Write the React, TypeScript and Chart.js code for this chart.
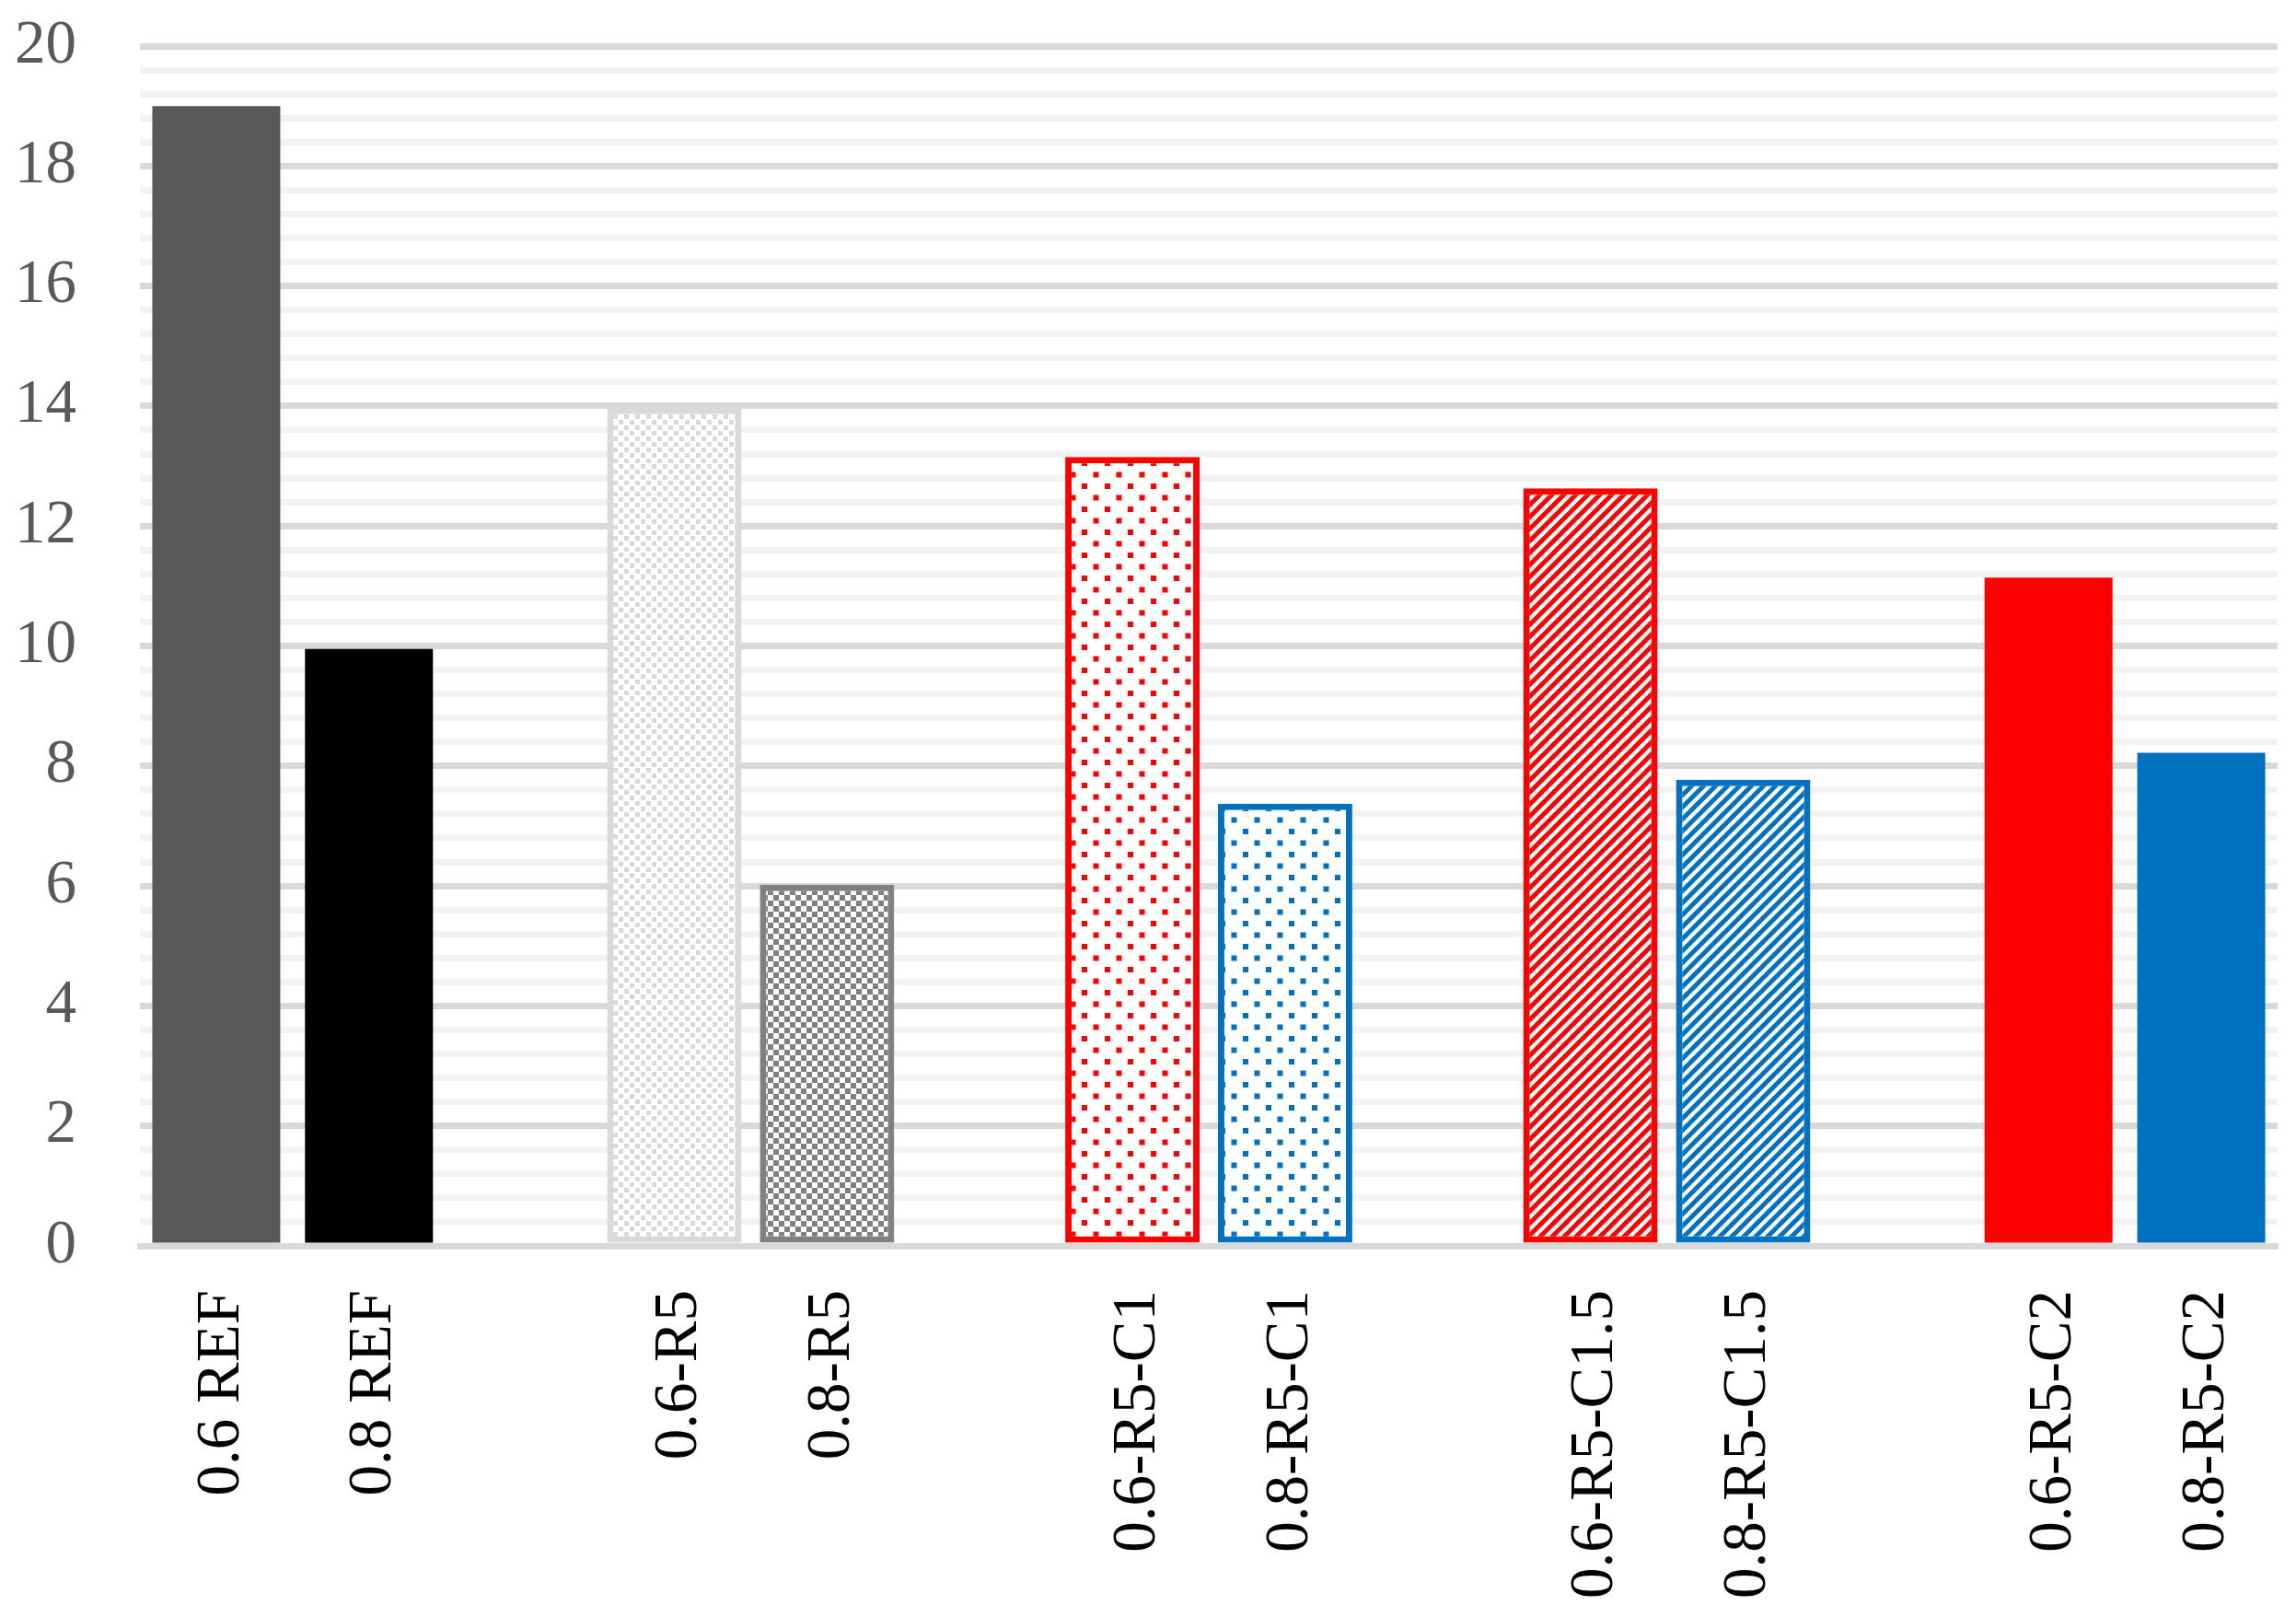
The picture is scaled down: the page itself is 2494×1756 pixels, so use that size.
import React, { useEffect, useRef } from "react";
import { Chart, registerables } from "chart.js";

Chart.register(...registerables);

// ---- data ----
const categories: string[] = [
  "0.6 REF", "0.8 REF", "",
  "0.6-R5", "0.8-R5", "",
  "0.6-R5-C1", "0.8-R5-C1", "",
  "0.6-R5-C1.5", "0.8-R5-C1.5", "",
  "0.6-R5-C2", "0.8-R5-C2",
];
const values: (number | null)[] = [
  19.0, 9.95, null,
  13.97, 6.02, null,
  13.15, 7.37, null,
  12.63, 7.77, null,
  11.14, 8.22,
];
const yMin = 0;
const yMax = 20;
const yStep = 0.4;
const yLabelEvery = 2;

// ---- styles (kept apart from the data) ----
type Kind = "solid" | "checkLight" | "checkDark" | "dots" | "stripes" | "none";
const barKinds: Kind[] = [
  "solid", "solid", "none",
  "checkLight", "checkDark", "none",
  "dots", "dots", "none",
  "stripes", "stripes", "none",
  "solid", "solid",
];
const barColors: string[] = [
  "#595959", "#000000", "#ffffff",
  "#d9d9d9", "#808080", "#ffffff",
  "#ff0000", "#0070c0", "#ffffff",
  "#ff0000", "#0070c0", "#ffffff",
  "#ff0000", "#0070c0",
];

const FONT = '"Liberation Serif", "Times New Roman", serif';

function makeTile(size: number, draw: (c: CanvasRenderingContext2D) => void) {
  const t = document.createElement("canvas");
  t.width = size;
  t.height = size;
  const c = t.getContext("2d")!;
  c.fillStyle = "#ffffff";
  c.fillRect(0, 0, size, size);
  draw(c);
  return t;
}

function makePattern(ctx: CanvasRenderingContext2D, kind: Kind, color: string): CanvasPattern | string {
  let tile: HTMLCanvasElement | null = null;
  if (kind === "checkLight") {
    tile = makeTile(12, (c) => {
      c.fillStyle = color;
      c.fillRect(0, 0, 5, 5);
      c.fillRect(6, 6, 5, 5);
    });
  } else if (kind === "checkDark") {
    tile = makeTile(12, (c) => {
      c.fillStyle = color;
      c.fillRect(0, 0, 6, 6);
      c.fillRect(6, 6, 6, 6);
    });
  } else if (kind === "dots") {
    tile = makeTile(25, (c) => {
      c.fillStyle = color;
      c.fillRect(0, 0, 6, 6);
      c.fillRect(12.5, 12.5, 6, 6);
    });
  } else if (kind === "stripes") {
    const n = 13;
    tile = makeTile(n, (c) => {
      c.strokeStyle = color;
      c.lineWidth = 5;
      for (const o of [-n, 0, n]) {
        c.beginPath();
        c.moveTo(o - 2, n + 2);
        c.lineTo(o + n + 2, -2);
        c.stroke();
      }
    });
  }
  if (!tile) return color;
  return ctx.createPattern(tile, "repeat") || color;
}

export default function App() {
  const ref = useRef<HTMLCanvasElement | null>(null);

  useEffect(() => {
    const canvas = ref.current;
    if (!canvas) return;
    const ctx = canvas.getContext("2d")!;

    const fills = barKinds.map((k, i) => makePattern(ctx, k, barColors[i]));
    const solidData = values.map((v, i) => (barKinds[i] === "solid" ? v : null));
    const borderedData = values.map((v, i) =>
      barKinds[i] !== "solid" && barKinds[i] !== "none" ? v : null
    );

    const isMajor = (v: number) =>
      Math.abs(v / yLabelEvery - Math.round(v / yLabelEvery)) < 1e-6;

    const chart = new Chart(canvas, {
      type: "bar",
      data: {
        labels: categories,
        datasets: [
          {
            data: solidData,
            backgroundColor: fills,
            borderWidth: 0,
            grouped: false,
            barPercentage: 0.838,
            categoryPercentage: 1,
          } as any,
          {
            data: borderedData,
            backgroundColor: fills,
            borderColor: barColors,
            borderWidth: 7,
            borderSkipped: false,
            grouped: false,
            barPercentage: 0.88,
            categoryPercentage: 1,
          } as any,
        ],
      },
      options: {
        animation: false,
        responsive: false,
        maintainAspectRatio: false,
        layout: { padding: { top: 50, right: 20, left: 0, bottom: 0 } },
        plugins: {
          legend: { display: false },
          tooltip: { enabled: false },
        },
        scales: {
          x: {
            type: "category",
            grid: { display: false, drawTicks: false },
            border: { display: true, color: "#d9d9d9", width: 7, z: 1 } as any,
            ticks: {
              autoSkip: false,
              minRotation: 90,
              maxRotation: 90,
              padding: 48,
              labelOffset: 6,
              color: "#000000",
              font: { family: FONT, size: 67 },
            },
            afterFit: (s: any) => {
              s.height = 403;
              s.paddingLeft = 0;
              s.paddingRight = 0;
            },
          },
          y: {
            min: yMin,
            max: yMax,
            grid: {
              color: (c: any) => (c.tick && isMajor(c.tick.value) ? "#d9d9d9" : "#f2f2f2"),
              lineWidth: 7,
              drawTicks: false,
            },
            border: { display: false },
            ticks: {
              stepSize: yStep,
              autoSkip: false,
              padding: 69,
              color: "#595959",
              font: { family: FONT, size: 67 },
              callback: (v: any) => (isMajor(Number(v)) ? String(Math.round(Number(v))) : ""),
            },
            afterFit: (s: any) => {
              s.width = 152;
              s.paddingTop = 0;
              s.paddingBottom = 0;
            },
          },
        },
      } as any,
    });

    return () => chart.destroy();
  }, []);

  return (
    <div style={{ position: "absolute", left: 0, top: 0, width: 2494, height: 1756, background: "#ffffff" }}>
      <canvas ref={ref} width={2494} height={1756} style={{ display: "block", width: 2494, height: 1756 }} />
    </div>
  );
}
